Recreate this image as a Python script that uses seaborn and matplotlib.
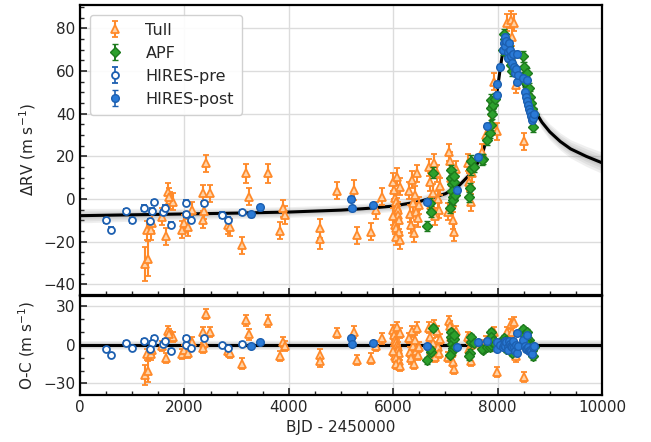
import numpy as np
import pandas as pd
import matplotlib
matplotlib.use("Agg")
import matplotlib.pyplot as plt
import seaborn as sns
from matplotlib.ticker import MultipleLocator

# ---------------- data ----------------
tull_t = [1248, 1311, 1280, 1363, 1382, 1574, 1651, 1689, 1727, 1772, 1710, 1958, 1983, 2060, 2143,
          2354, 2380, 2348, 2418, 2495, 2834, 2866, 3103, 3186, 3244, 3596, 3839, 3883, 3922, 4594,
          4594, 4927, 5240, 5298, 5566, 5662, 5777, 6000, 6020, 6040, 6055, 6070, 6085, 6100, 6110,
          6030, 6060, 6120, 6050, 6140, 6080, 6130, 5990, 6300, 6320, 6340, 6360, 6380, 6400, 6420,
          6440, 6460, 6480, 6490, 6680, 6700, 6720, 6760, 6800, 6830, 6860, 6880, 6900, 6780, 7060,
          7080, 7100, 7120, 7140, 7160, 7180, 7200, 7050, 7430, 7460, 7490, 7510, 7998, 7934, 8177,
          8253, 8317, 8349, 8509, 8280, 8220, 7870, 7700, 7780]
tull_rv = [-30.6, -27.9, -14.6, -14.6, -11.1, -8.3, -17.4, 3.4, -0.5, -1.3, 1.0, -14.3, -11.4, -13.3, -5.2,
           2.7, -5.5, -9.6, 16.8, 2.7, -12.2, -13.3, -21.6, 12.1, 1.1, 12.1, -14.9, -4.4, -7.5, -13.8,
           -18.8, 3.9, 4.2, -16.9, -15.4, -5.2, 1.1, 8.0, 4.2, 0.3, -1.3, -3.6, -5.2, -7.5, -9.9,
           -12.2, -13.8, -15.4, -17.7, -19.3, 10.5, 5.8, -8.0, 4.0, -7.0, -12.0, 9.0, -2.0, -16.0, 2.0,
           -6.0, 12.0, -9.0, -3.0, 15.0, 8.0, -3.0, 3.0, -8.0, 12.0, 0.0, -5.0, 6.0, 17.0, 22.0,
           18.0, 10.0, -2.0, -10.0, -15.5, 4.0, 14.0, -6.0, 17.0, 8.0, -1.5, 12.0, 31.7, 55.0, 82.7,
           84.0, 82.7, 53.6, 27.0, 76.0, 71.0, 35.0, 22.0, 30.0]
tull_res = [-23.4, -20.7, -7.4, -7.4, -3.9, -1.1, -10.2, 10.6, 6.7, 5.9, 8.2, -7.1, -4.2, -6.1, 2.0,
            9.9, 1.7, -2.4, 24.0, 9.9, -5.0, -6.1, -14.6, 19.1, 8.1, 18.7, -8.5, 2.0, -1.1, -7.9,
            -12.9, 9.3, 10.0, -11.8, -10.7, -1.0, 5.0, 11.2, 7.4, 3.5, 1.9, -0.4, -2.0, -4.3, -6.7,
            -9.0, -10.6, -12.2, -14.5, -16.1, 13.7, 9.0, -4.8, 5.5, -5.5, -10.5, 10.5, -0.5, -14.5, 3.5,
            -4.5, 13.5, -7.5, -1.5, 13.5, 6.5, -4.5, 1.5, -9.5, 10.5, -1.5, -6.5, 4.5, 15.5, 18.5,
            14.5, 6.5, -5.5, -13.5, -19.0, 0.5, 10.5, -9.5, 6.0, -3.0, -12.5, 1.0, -21.0, 10.0, 10.0,
            16.0, 18.0, -9.0, -25.0, 10.0, 1.0, -1.0, 0.0, 3.0]
tull_err = [8.0, 8.0, 4.5, 4.5, 4.0, 4.0, 4.0, 4.0, 4.0, 4.0, 4.0, 4.0, 4.0, 4.0, 4.0,
            4.0, 4.0, 4.0, 4.0, 4.0, 4.0, 4.0, 4.0, 4.5, 4.0, 4.5, 4.0, 4.0, 4.0, 4.5,
            4.5, 4.0, 4.5, 4.0, 4.0, 4.0, 4.0, 4.0, 4.0, 4.0, 4.0, 4.0, 4.0, 4.0, 4.0,
            4.0, 4.0, 4.0, 4.0, 4.0, 4.0, 4.0, 4.0, 4.0, 4.0, 4.0, 4.0, 4.0, 4.0, 4.0,
            4.0, 4.0, 4.0, 4.0, 4.0, 4.0, 4.0, 4.0, 4.0, 4.0, 4.0, 4.0, 4.0, 4.0, 4.0,
            4.0, 4.0, 4.0, 4.0, 4.0, 4.0, 4.0, 4.0, 4.0, 4.0, 4.0, 4.0, 4.0, 4.0, 4.0,
            4.0, 4.0, 4.0, 4.0, 4.0, 4.0, 4.0, 4.0, 4.0]

apf_t = [6641, 6718, 6762, 6700, 7100, 7110, 7120, 7130, 7140, 7150, 7160, 7170, 7180, 7090,
         7486, 7473, 7460, 7500, 7729, 7550, 7710, 7806, 7850, 7883, 7883, 7870, 7900, 7920,
         7950, 8125, 8100, 8140, 8160, 8180, 8200, 8240, 8260, 8280, 8478, 8500, 8573, 8600,
         8620, 8640, 8669, 8690, 8650, 8530]
apf_rv = [-12.7, -6.0, 12.4, -2.0, 13.6, 10.0, 7.0, 4.0, 1.0, -0.5, 8.0, 11.0, 2.0, -4.0,
          14.0, 5.0, 1.0, 18.0, 18.7, 15.2, 18.4, 27.8, 31.0, 46.6, 42.7, 34.8, 40.0, 44.0,
          47.0, 77.2, 70.0, 75.0, 70.0, 68.0, 72.0, 65.0, 63.0, 60.0, 67.0, 62.0, 59.0, 52.0,
          48.0, 45.0, 34.0, 40.0, 42.0, 55.0]
apf_res = [-12.0, -5.5, 13.0, -3.0, 10.0, 6.5, 3.5, 0.5, -2.5, -4.0, 4.5, 7.5, -2.0, -8.0,
           2.5, -6.0, -9.0, 6.0, -4.0, 1.6, -3.1, -1.5, -2.0, 10.0, 6.0, 0.0, 2.0, 3.0,
           1.0, 5.0, 2.0, 3.0, -3.0, -2.0, 2.0, -2.0, -4.0, -6.0, 12.0, 8.0, 10.0, 4.0,
           1.0, -1.0, -9.0, -2.0, -4.0, 2.0]
apf_err = [2.5] * len(apf_t)

pre_t = [493, 589, 877, 992, 1235, 1408, 1382, 1344, 1587, 1625, 1734, 2035, 2029, 2131, 2367,
         2713, 2834, 3103]
pre_rv = [-9.9, -14.3, -5.8, -9.9, -4.2, -1.6, -5.6, -10.4, -6.3, -4.1, -12.1, -1.7, -7.1, -9.6, -2.0,
          -7.5, -9.6, -6.3]
pre_res = [-3.2, -7.5, 1.5, -2.6, 3.1, 5.7, 1.7, -3.1, 1.0, 3.2, -4.8, 5.6, 0.2, -2.3, 5.3,
           -0.2, -2.3, 0.7]
pre_err = [1.2] * len(pre_t)

post_t = [3269, 3449, 5196, 5215, 5618, 6641, 7230, 7626, 7806, 7998, 7998, 8050, 8100, 8125,
          8140, 8150, 8170, 8190, 8200, 8210, 8230, 8250, 8270, 8290, 8310, 8330, 8350, 8370,
          8363, 8390, 8490, 8573, 8520, 8540, 8560, 8580, 8600, 8620, 8640, 8660, 8680, 8700]
post_rv = [-7.1, -3.9, 0.0, -4.4, -3.0, -1.3, 4.2, 19.9, 34.4, 54.0, 49.0, 62.0, 70.0, 73.3,
           76.0, 72.0, 74.0, 69.0, 66.0, 73.0, 70.0, 67.0, 64.0, 68.0, 62.0, 59.0, 61.0, 68.0,
           55.0, 58.0, 56.8, 55.7, 50.0, 48.0, 46.0, 44.0, 42.0, 41.0, 39.0, 37.0, 38.0, 40.0]
post_res = [-0.5, 2.6, 5.5, 1.0, 1.5, -0.5, -1.5, 2.0, 3.0, 2.0, -3.0, 0.0, -2.0, 0.0,
            3.0, -1.0, 2.0, -2.0, -4.0, 3.0, 1.0, -1.0, -2.0, 3.0, -2.0, -5.0, 0.0, 9.0,
            -6.0, -1.0, 3.5, 8.0, -1.0, -3.0, -3.0, -2.0, -5.0, -4.0, -5.0, -7.0, -2.0, -1.0]
post_err = [1.2] * len(post_t)

# model curve
model_t = [0, 1000, 2000, 3000, 4000, 5000, 5500, 6000, 6500, 7000, 7250, 7550, 7710, 7806,
           7900, 8000, 8061, 8120, 8160, 8200, 8300, 8400, 8500, 8600, 8700, 8850, 9000, 9200,
           9400, 9700, 10000]
model_rv = [-7.8, -7.4, -7.0, -6.6, -6.1, -5.2, -4.4, -3.3, -1.2, 2.5, 6.0, 13.6, 21.5, 29.3,
            38.0, 52.0, 63.0, 72.0, 73.0, 70.0, 65.5, 60.0, 53.5, 47.5, 42.0, 36.0, 31.5, 27.0,
            23.5, 20.0, 17.0]
model_spread = [3.4, 3.0, 2.7, 2.5, 2.5, 2.5, 2.5, 2.5, 2.5, 2.5, 2.5, 2.5, 2.5, 2.5,
                2.5, 2.7, 2.7, 2.7, 2.7, 2.7, 2.7, 2.8, 2.9, 3.0, 3.2, 3.4, 3.7, 4.0,
                4.3, 4.7, 5.0]
res_t = [0, 10000]
res_zero = [0, 0]
res_spread = [3.4, 4.0]

# ---------------- styling ----------------
sns.set_style("white")
plt.rcParams["font.family"] = ["DejaVu Sans"]
plt.rcParams["xtick.direction"] = "in"
plt.rcParams["ytick.direction"] = "in"

TULL_C = "#ff8a2a"
TULL_F = "#ffd3a8"
APF_C = "#2ca02c"
APF_E = "#1d7a1d"
BLUE = "#2a7ad6"
BLUE_E = "#1c5fb0"

fig = plt.figure(figsize=(6.51, 4.42), dpi=100)
ax1 = fig.add_axes([0.1229, 0.3326, 0.8018, 0.6561])
ax2 = fig.add_axes([0.1229, 0.1063, 0.8018, 0.2240])

mdf = pd.DataFrame({"t": model_t, "rv": model_rv, "s": model_spread})
rdf = pd.DataFrame({"t": res_t, "rv": res_zero, "s": res_spread})

for ax, df in ((ax1, mdf), (ax2, rdf)):
    lo = df["rv"].to_numpy()
    sp = df["s"].to_numpy()
    for k in (1.0, 0.75, 0.5, 0.3):
        ax.fill_between(df["t"], lo - k * sp, lo + k * sp, color="0.45", alpha=0.11, lw=0, zorder=2)
    sns.lineplot(data=df, x="t", y="rv", color="black", lw=2.2, ax=ax, zorder=3)

def draw(ax, t, y, e):
    h = []
    h.append(ax.errorbar(t[0], y[0], yerr=e[0], fmt="^", ms=6, mfc=TULL_F, mec=TULL_C, mew=1.3,
                         ecolor=TULL_C, elinewidth=1.5, capsize=2.5, capthick=1.5, zorder=4,
                         label="Tull"))
    h.append(ax.errorbar(t[1], y[1], yerr=e[1], fmt="D", ms=5.5, mfc=APF_C, mec=APF_E, mew=1.0,
                         ecolor=APF_E, elinewidth=1.4, capsize=2.5, capthick=1.4, zorder=5,
                         label="APF"))
    h.append(ax.errorbar(t[2], y[2], yerr=e[2], fmt="o", ms=5, mfc="white", mec=BLUE_E, mew=1.3,
                         ecolor=BLUE_E, elinewidth=1.2, capsize=2, capthick=1.2, zorder=6,
                         label="HIRES-pre"))
    h.append(ax.errorbar(t[3], y[3], yerr=e[3], fmt="o", ms=5.5, mfc=BLUE, mec=BLUE_E, mew=1.0,
                         ecolor=BLUE_E, elinewidth=1.2, capsize=2, capthick=1.2, zorder=7,
                         label="HIRES-post"))
    return h

times = (tull_t, apf_t, pre_t, post_t)
errs = (tull_err, apf_err, pre_err, post_err)
handles = draw(ax1, times, (tull_rv, apf_rv, pre_rv, post_rv), errs)
draw(ax2, times, (tull_res, apf_res, pre_res, post_res), errs)

for ax in (ax1, ax2):
    ax.set_xlim(0, 10000)
    ax.xaxis.set_major_locator(MultipleLocator(2000))
    ax.xaxis.set_minor_locator(MultipleLocator(500))
    ax.grid(True, which="major", color="#dcdcdc", lw=1.0, zorder=0)
    ax.set_axisbelow(True)
    for s in ax.spines.values():
        s.set_linewidth(1.6)
        s.set_color("black")
    ax.tick_params(which="major", length=5, width=1.2, labelsize=11, direction="in",
                   left=True, bottom=True, top=False, right=False)
    ax.tick_params(which="minor", length=3, width=1.0, direction="in",
                   left=True, bottom=True, top=False, right=False)

ax1.set_ylim(-45, 91)
ax1.yaxis.set_major_locator(MultipleLocator(20))
ax1.yaxis.set_minor_locator(MultipleLocator(5))
ax1.tick_params(axis="x", labelbottom=False)
ax1.set_xlabel("")
ax1.set_ylabel("ΔRV (m s$^{-1}$)", fontsize=11)

ax2.set_ylim(-39, 38)
ax2.yaxis.set_major_locator(MultipleLocator(30))
ax2.yaxis.set_minor_locator(MultipleLocator(10))
ax2.set_xlabel("BJD - 2450000", fontsize=11)
ax2.set_ylabel("O-C (m s$^{-1}$)", fontsize=11)

leg = ax1.legend(handles=handles, labels=["Tull", "APF", "HIRES-pre", "HIRES-post"],
                 loc="upper left", fontsize=11.5, frameon=True, fancybox=True, framealpha=0.9,
                 edgecolor="#cccccc", borderaxespad=0.6, handletextpad=0.8, borderpad=0.5,
                 handlelength=2.2)

fig.savefig("out.png", dpi=100)
